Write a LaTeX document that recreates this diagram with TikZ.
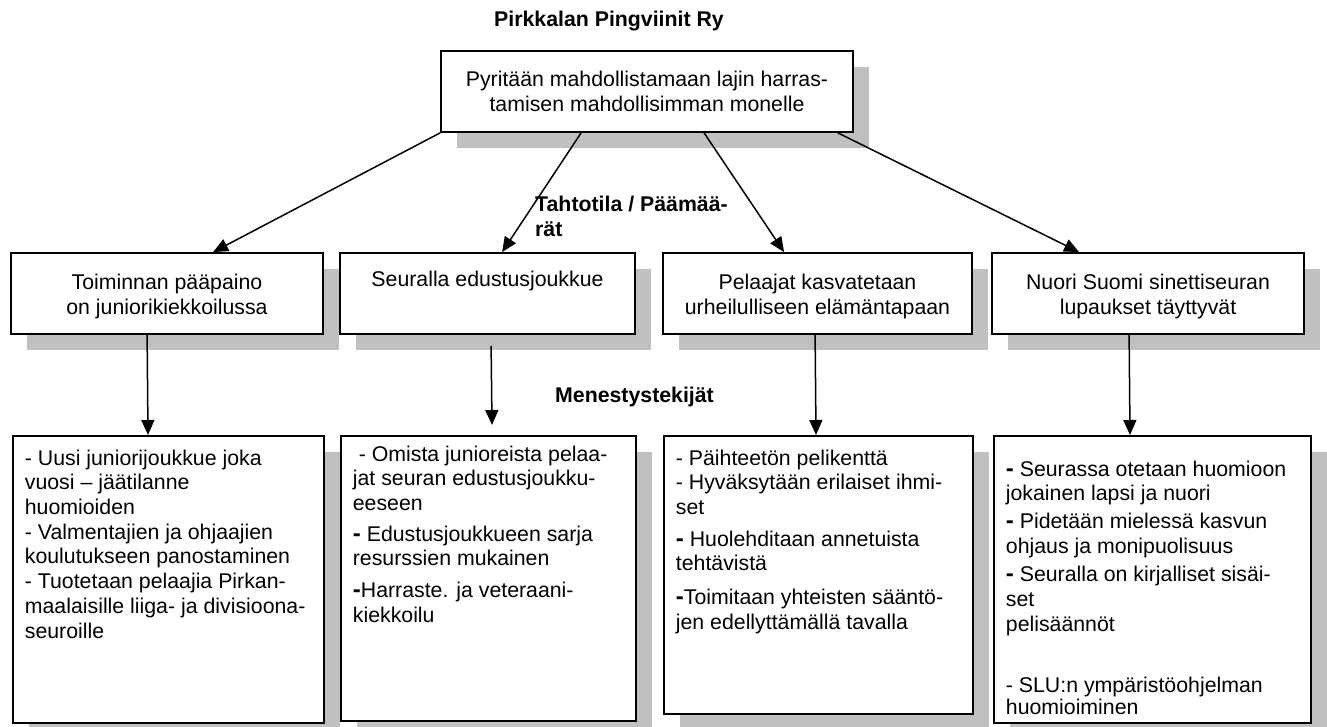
\documentclass[tikz,border=0pt]{standalone}
\usepackage{fontspec}
\setmainfont{Liberation Sans}
\usetikzlibrary{arrows.meta,shadows}
\definecolor{shadowc}{RGB}{192,192,192}
\newcommand{\bh}{{\bfseries\fontsize{24}{24}\selectfont -}}
\newcommand{\tallstrut}{\rule{0pt}{25pt}}
\begin{document}
\begin{tikzpicture}[x=1pt,y=-1pt,
  every node/.style={font=\fontsize{21.3}{24.7}\selectfont},
  boxbase/.style={draw=black, line width=1.8pt, fill=white, inner sep=0pt,
     drop shadow={shadow xshift=16pt, shadow yshift=-16pt, fill=shadowc, opacity=1}},
  box/.style={boxbase, align=center},
  fbox/.style={boxbase, anchor=north west, inner xsep=12pt, inner ysep=0pt},
  lbl/.style={font=\fontsize{21.3}{24.7}\selectfont\bfseries, inner sep=0pt},
  arr/.style={line width=1.5pt, -{Triangle[length=15pt,width=13pt]}}
]
\useasboundingbox[fill=white] (0,0) rectangle (1327,727);
\clip (0,0) rectangle (1327,727);

% title
\node[lbl, anchor=base] (title) at (609,27) {Pirkkalan Pingviinit Ry};

% top box
\node[box, minimum width=412pt, minimum height=81pt] (top) at (647,91.5)
  {\rule{0pt}{23pt}Pyritään mahdollistamaan lajin harras-\\\strut tamisen mahdollisimman monelle};

% goal boxes
\node[box, minimum width=312pt, minimum height=81pt] (ga) at (167,293.5)
  {\tallstrut Toiminnan pääpaino\\\strut on juniorikiekkoilussa};
\node[box, minimum width=295pt, minimum height=81pt] (gb) at (487.5,293.5)
  {\strut Seuralla edustusjoukkue\\\strut};
\node[box, minimum width=309pt, minimum height=81pt] (gc) at (817.5,293.5)
  {\tallstrut Pelaajat kasvatetaan\\\strut urheilulliseen elämäntapaan};
\node[box, minimum width=312pt, minimum height=81pt] (gd) at (1148,293.5)
  {\tallstrut Nuori Suomi sinettiseuran\\\strut lupaukset täyttyvät};

% ghost text (shadow of overflowing text)
\node[text=gray, anchor=base west, inner sep=0pt] (ghost) at (1023,731) {huomioiminen};

% factor boxes
\node[fbox] (b1) at (12,435) {\begin{minipage}[c][287pt][t]{287pt}\raggedright
\vspace*{12pt}\strut - Uusi juniorijoukkue joka\\
vuosi – jäätilanne\\
huomioiden\\
- Valmentajien ja ohjaajien\\
koulutukseen panostaminen\\
- Tuotetaan pelaajia Pirkan-\\
maalaisille liiga- ja divisioona-\\
seuroille
\end{minipage}};

\node[fbox] (b2) at (340,435) {\begin{minipage}[c][285pt][t]{271pt}\raggedright
\vspace*{8pt}\strut\ - Omista junioreista pelaa-\\
jat seuran edustusjoukku-\\
eeseen\\[6pt]
\bh\ Edustusjoukkueen sarja\\
resurssien mukainen\\[7pt]
\bh Harraste. ja veteraani-\\
kiekkoilu
\end{minipage}};

\node[fbox] (b3) at (663,435) {\begin{minipage}[c][278pt][t]{285pt}\raggedright
\vspace*{12pt}\strut - Päihteetön pelikenttä\\
- Hyväksytään erilaiset ihmi-\\
set\\[7pt]
\bh\ Huolehditaan annetuista\\
tehtävistä\\[9pt]
\bh Toimitaan yhteisten sääntö-\\
jen edellyttämällä tavalla
\end{minipage}};

\node[fbox] (b4) at (993,435) {\begin{minipage}[c][287pt][t]{293pt}\raggedright
\vspace*{23pt}\strut\bh\ Seurassa otetaan huomioon\\
jokainen lapsi ja nuori\\[3pt]
\bh\ Pidetään mielessä kasvun\\
ohjaus ja monipuolisuus\\[4pt]
\bh\ Seuralla on kirjalliset sisäi-\\
set\\
pelisäännöt\\[36pt]
- SLU:n ympäristöohjelman\\[-2pt]
huomioiminen
\end{minipage}};

% labels
\node[lbl, anchor=north west, align=left] (tahto) at (535,194) {\strut Tahtotila / Päämää-\\rät};
\node[lbl, anchor=base] (menes) at (634.5,402) {Menestystekijät};

% connectors top -> goals
\draw[arr] (top.south west) -- ([xshift=203pt]ga.north west);
\draw[arr] ([xshift=141pt]top.south west) -- ([xshift=163pt]gb.north west);
\draw[arr] ([xshift=264pt]top.south west) -- ([xshift=122pt]gc.north west);
\draw[arr] ([xshift=-16pt]top.south east) -- ([xshift=88pt]gd.north west);

% connectors goals -> factors
\draw[arr] ([xshift=137pt]ga.south west) -- ([xshift=136pt]b1.north west);
\draw[arr] ([xshift=152pt,yshift=-11pt]gb.south west) -- ([xshift=152pt,yshift=10pt]b2.north west);
\draw[arr] ([xshift=153pt]gc.south west) -- ([xshift=153pt]b3.north west);
\draw[arr] ([xshift=138pt]gd.south west) -- ([xshift=137pt]b4.north west);
\end{tikzpicture}
\end{document}
